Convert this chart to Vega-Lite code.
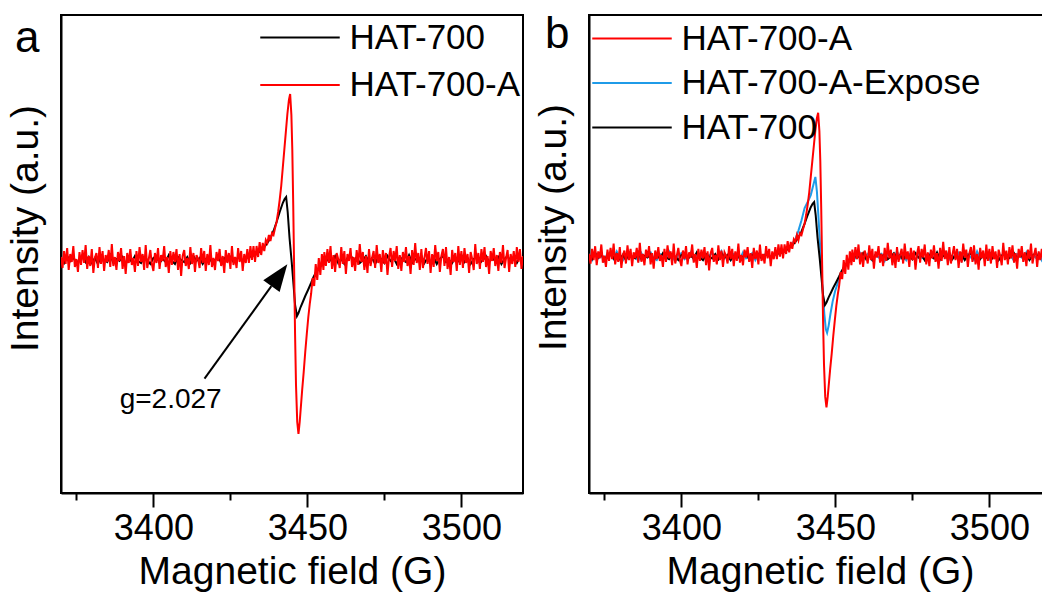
{
  "$schema": "https://vega.github.io/schema/vega-lite/v6.json",
  "padding": {"left": 4, "top": 11, "right": 0, "bottom": 0},
  "autosize": {"type": "pad"},
  "config": {
    "font": "Liberation Sans",
    "view": {"stroke": "#000000", "strokeWidth": 2},
    "axis": {"grid": false, "domainColor": "#000000", "domainWidth": 2, "labelColor": "#000000", "titleColor": "#000000", "titleFontWeight": "normal", "tickColor": "#000000", "tickWidth": 2},
    "legend": {"labelColor": "#000000", "labelLimit": 400}
  },
  "datasets": {
    "red": [
      {"x":3370,"y":3},{"x":3370.5,"y":-8},{"x":3371,"y":9},{"x":3371.5,"y":-4},{"x":3372,"y":12},{"x":3372.5,"y":-10},{"x":3373,"y":6},{"x":3373.5,"y":-2},{"x":3374,"y":14},{"x":3374.5,"y":-7},
      {"x":3375,"y":1},{"x":3375.5,"y":-12},{"x":3376,"y":8},{"x":3376.5,"y":-5},{"x":3377,"y":10},{"x":3377.5,"y":-3},{"x":3378,"y":15},{"x":3378.5,"y":-9},{"x":3379,"y":4},{"x":3379.5,"y":-6},
      {"x":3380,"y":11},{"x":3380.5,"y":-13},{"x":3381,"y":2},{"x":3381.5,"y":7},{"x":3382,"y":-8},{"x":3382.5,"y":13},{"x":3383,"y":-4},{"x":3383.5,"y":9},{"x":3384,"y":-11},{"x":3384.5,"y":5},
      {"x":3385,"y":-2},{"x":3385.5,"y":10},{"x":3386,"y":-7},{"x":3386.5,"y":16},{"x":3387,"y":-6},{"x":3387.5,"y":3},{"x":3388,"y":-10},{"x":3388.5,"y":8},{"x":3389,"y":-1},{"x":3389.5,"y":12},
      {"x":3390,"y":-9},{"x":3390.5,"y":4},{"x":3391,"y":-14},{"x":3391.5,"y":7},{"x":3392,"y":-3},{"x":3392.5,"y":11},{"x":3393,"y":-5},{"x":3393.5,"y":2},{"x":3394,"y":-12},{"x":3394.5,"y":9},
      {"x":3395,"y":-6},{"x":3395.5,"y":13},{"x":3396,"y":-2},{"x":3396.5,"y":6},{"x":3397,"y":-10},{"x":3397.5,"y":15},{"x":3398,"y":-8},{"x":3398.5,"y":1},{"x":3399,"y":10},{"x":3399.5,"y":-4},
      {"x":3400,"y":-11},{"x":3400.5,"y":7},{"x":3401,"y":-3},{"x":3401.5,"y":12},{"x":3402,"y":-9},{"x":3402.5,"y":5},{"x":3403,"y":-1},{"x":3403.5,"y":14},{"x":3404,"y":-7},{"x":3404.5,"y":3},
      {"x":3405,"y":-13},{"x":3405.5,"y":9},{"x":3406,"y":-5},{"x":3406.5,"y":8},{"x":3407,"y":-2},{"x":3407.5,"y":11},{"x":3408,"y":-10},{"x":3408.5,"y":6},{"x":3409,"y":-16},{"x":3409.5,"y":4},
      {"x":3410,"y":10},{"x":3410.5,"y":-6},{"x":3411,"y":2},{"x":3411.5,"y":-9},{"x":3412,"y":13},{"x":3412.5,"y":-4},{"x":3413,"y":7},{"x":3413.5,"y":-12},{"x":3414,"y":5},{"x":3414.5,"y":1},
      {"x":3415,"y":-8},{"x":3415.5,"y":12},{"x":3416,"y":-3},{"x":3416.5,"y":9},{"x":3417,"y":-11},{"x":3417.5,"y":6},{"x":3418,"y":-5},{"x":3418.5,"y":15},{"x":3419,"y":-7},{"x":3419.5,"y":2},
      {"x":3420,"y":-10},{"x":3420.5,"y":8},{"x":3421,"y":-1},{"x":3421.5,"y":11},{"x":3422,"y":-6},{"x":3422.5,"y":4},{"x":3423,"y":-13},{"x":3423.5,"y":10},{"x":3424,"y":-3},{"x":3424.5,"y":7},
      {"x":3425,"y":-9},{"x":3425.5,"y":14},{"x":3426,"y":-5},{"x":3426.5,"y":3},{"x":3427,"y":-8},{"x":3427.5,"y":12},{"x":3428,"y":-2},{"x":3428.5,"y":9},{"x":3429,"y":-11},{"x":3429.5,"y":6},
      {"x":3430,"y":-3},{"x":3430.5,"y":11},{"x":3431,"y":-3},{"x":3431.5,"y":14},{"x":3432,"y":0},{"x":3432.5,"y":14},{"x":3433,"y":-2},{"x":3433.5,"y":14},{"x":3434,"y":3},{"x":3434.5,"y":18},
      {"x":3435,"y":5},{"x":3435.5,"y":17},{"x":3436,"y":9},{"x":3436.5,"y":20},{"x":3437,"y":17},{"x":3437.5,"y":25},{"x":3438,"y":19},{"x":3438.5,"y":27},{"x":3439,"y":25},{"x":3439.5,"y":32},
      {"x":3440,"y":38},{"x":3440.5,"y":48},{"x":3441,"y":60},{"x":3441.5,"y":74},{"x":3442,"y":92},{"x":3442.5,"y":110},{"x":3443,"y":128},{"x":3443.5,"y":146},{"x":3444,"y":160},{"x":3444.4,"y":166},
      {"x":3444.8,"y":145},{"x":3445.1,"y":110},{"x":3445.4,"y":55},{"x":3445.7,"y":-10},{"x":3446,"y":-75},{"x":3446.3,"y":-125},{"x":3446.7,"y":-162},{"x":3447.1,"y":-174},{"x":3447.5,"y":-162},{"x":3447.9,"y":-146},
      {"x":3448.3,"y":-130},{"x":3448.8,"y":-112},{"x":3449.3,"y":-92},{"x":3449.8,"y":-74},{"x":3450.3,"y":-57},{"x":3450.8,"y":-43},{"x":3451.2,"y":-34},{"x":3451.7,"y":-18},{"x":3452.2,"y":-26},{"x":3452.7,"y":-4},
      {"x":3453.2,"y":-20},{"x":3453.7,"y":2},{"x":3454.2,"y":-15},{"x":3454.7,"y":6},{"x":3455.2,"y":-10},
      {"x":3455.5,"y":8},{"x":3456,"y":-6},{"x":3456.5,"y":11},{"x":3457,"y":-3},{"x":3457.5,"y":14},{"x":3458,"y":-9},{"x":3458.5,"y":5},{"x":3459,"y":-12},{"x":3459.5,"y":7},{"x":3460,"y":1},
      {"x":3460.5,"y":-8},{"x":3461,"y":13},{"x":3461.5,"y":-4},{"x":3462,"y":9},{"x":3462.5,"y":-14},{"x":3463,"y":6},{"x":3463.5,"y":-1},{"x":3464,"y":12},{"x":3464.5,"y":-7},{"x":3465,"y":3},
      {"x":3465.5,"y":-11},{"x":3466,"y":10},{"x":3466.5,"y":-5},{"x":3467,"y":16},{"x":3467.5,"y":-2},{"x":3468,"y":8},{"x":3468.5,"y":-10},{"x":3469,"y":4},{"x":3469.5,"y":-13},{"x":3470,"y":11},
      {"x":3470.5,"y":-6},{"x":3471,"y":2},{"x":3471.5,"y":9},{"x":3472,"y":-8},{"x":3472.5,"y":15},{"x":3473,"y":-3},{"x":3473.5,"y":6},{"x":3474,"y":-12},{"x":3474.5,"y":10},{"x":3475,"y":-4},
      {"x":3475.5,"y":7},{"x":3476,"y":-15},{"x":3476.5,"y":3},{"x":3477,"y":12},{"x":3477.5,"y":-7},{"x":3478,"y":9},{"x":3478.5,"y":-1},{"x":3479,"y":14},{"x":3479.5,"y":-9},{"x":3480,"y":5},
      {"x":3480.5,"y":-11},{"x":3481,"y":8},{"x":3481.5,"y":-2},{"x":3482,"y":13},{"x":3482.5,"y":-6},{"x":3483,"y":4},{"x":3483.5,"y":-14},{"x":3484,"y":10},{"x":3484.5,"y":-5},{"x":3485,"y":17},
      {"x":3485.5,"y":-3},{"x":3486,"y":7},{"x":3486.5,"y":-10},{"x":3487,"y":11},{"x":3487.5,"y":-8},{"x":3488,"y":2},{"x":3488.5,"y":12},{"x":3489,"y":-4},{"x":3489.5,"y":9},{"x":3490,"y":-13},
      {"x":3490.5,"y":6},{"x":3491,"y":-7},{"x":3491.5,"y":15},{"x":3492,"y":-1},{"x":3492.5,"y":8},{"x":3493,"y":-12},{"x":3493.5,"y":4},{"x":3494,"y":11},{"x":3494.5,"y":-6},{"x":3495,"y":13},
      {"x":3495.5,"y":-9},{"x":3496,"y":3},{"x":3496.5,"y":-15},{"x":3497,"y":10},{"x":3497.5,"y":-2},{"x":3498,"y":7},{"x":3498.5,"y":-11},{"x":3499,"y":14},{"x":3499.5,"y":-5},{"x":3500,"y":9},
      {"x":3500.5,"y":-8},{"x":3501,"y":12},{"x":3501.5,"y":-3},{"x":3502,"y":6},{"x":3502.5,"y":-13},{"x":3503,"y":8},{"x":3503.5,"y":1},{"x":3504,"y":-10},{"x":3504.5,"y":16},{"x":3505,"y":-4},
      {"x":3505.5,"y":7},{"x":3506,"y":-9},{"x":3506.5,"y":11},{"x":3507,"y":-2},{"x":3507.5,"y":13},{"x":3508,"y":-7},{"x":3508.5,"y":4},{"x":3509,"y":-14},{"x":3509.5,"y":9},{"x":3510,"y":-1},
      {"x":3510.5,"y":12},{"x":3511,"y":-6},{"x":3511.5,"y":5},{"x":3512,"y":-11},{"x":3512.5,"y":8},{"x":3513,"y":-3},{"x":3513.5,"y":15},{"x":3514,"y":-8},{"x":3514.5,"y":2},{"x":3515,"y":10},
      {"x":3515.5,"y":-12},{"x":3516,"y":6},{"x":3516.5,"y":-4},{"x":3517,"y":9},{"x":3517.5,"y":-7},{"x":3518,"y":13},{"x":3518.5,"y":-2},{"x":3519,"y":11},{"x":3519.5,"y":-9},{"x":3520,"y":4}
    ],
    "black": [
      {"x":3370,"y":2},{"x":3371,"y":-3},{"x":3372,"y":4},{"x":3373,"y":-1},{"x":3374,"y":3},{"x":3375,"y":-4},{"x":3376,"y":1},{"x":3377,"y":5},{"x":3378,"y":-2},{"x":3379,"y":3},
      {"x":3380,"y":-3},{"x":3381,"y":2},{"x":3382,"y":-4},{"x":3383,"y":4},{"x":3384,"y":0},{"x":3385,"y":-2},{"x":3386,"y":5},{"x":3387,"y":-3},{"x":3388,"y":1},{"x":3389,"y":-1},
      {"x":3390,"y":3},{"x":3391,"y":-4},{"x":3392,"y":2},{"x":3393,"y":-2},{"x":3394,"y":4},{"x":3395,"y":-1},{"x":3396,"y":-3},{"x":3397,"y":3},{"x":3398,"y":0},{"x":3399,"y":-4},
      {"x":3400,"y":2},{"x":3401,"y":4},{"x":3402,"y":-3},{"x":3403,"y":1},{"x":3404,"y":-2},{"x":3405,"y":5},{"x":3406,"y":-1},{"x":3407,"y":-4},{"x":3408,"y":3},{"x":3409,"y":0},
      {"x":3410,"y":-2},{"x":3411,"y":3},{"x":3412,"y":-3},{"x":3413,"y":4},{"x":3414,"y":-1},{"x":3415,"y":2},{"x":3416,"y":-4},{"x":3417,"y":1},{"x":3418,"y":3},{"x":3419,"y":-2},
      {"x":3420,"y":0},{"x":3421,"y":4},{"x":3422,"y":-3},{"x":3423,"y":2},{"x":3424,"y":-1},{"x":3425,"y":3},{"x":3426,"y":-2},{"x":3427,"y":1},{"x":3428,"y":4},{"x":3429,"y":-1},
      {"x":3430,"y":2},{"x":3431,"y":3},{"x":3432,"y":4},{"x":3433,"y":5},{"x":3434,"y":7},{"x":3435,"y":10},{"x":3436,"y":13},{"x":3437,"y":17},{"x":3438,"y":22},{"x":3439,"y":29},
      {"x":3440,"y":38},{"x":3441,"y":48},{"x":3442,"y":57},{"x":3442.6,"y":61},{"x":3443.1,"y":63},{"x":3443.6,"y":48},{"x":3444.2,"y":22},{"x":3444.9,"y":-2},{"x":3445.5,"y":-25},{"x":3446,"y":-45},
      {"x":3446.6,"y":-56},{"x":3447.1,"y":-53},{"x":3447.8,"y":-47},{"x":3448.5,"y":-42},{"x":3449.3,"y":-36},{"x":3450.2,"y":-30},{"x":3451.2,"y":-23},{"x":3452,"y":-17},{"x":3453,"y":-11},{"x":3454,"y":-7},
      {"x":3455,"y":-4},{"x":3456,"y":-2},
      {"x":3457,"y":3},{"x":3458,"y":-2},{"x":3459,"y":4},{"x":3460,"y":-3},{"x":3461,"y":1},{"x":3462,"y":-4},{"x":3463,"y":2},{"x":3464,"y":5},{"x":3465,"y":-1},{"x":3466,"y":3},
      {"x":3467,"y":-3},{"x":3468,"y":0},{"x":3469,"y":4},{"x":3470,"y":-2},{"x":3471,"y":2},{"x":3472,"y":-4},{"x":3473,"y":3},{"x":3474,"y":1},{"x":3475,"y":-3},{"x":3476,"y":4},
      {"x":3477,"y":-1},{"x":3478,"y":2},{"x":3479,"y":-4},{"x":3480,"y":3},{"x":3481,"y":0},{"x":3482,"y":-2},{"x":3483,"y":5},{"x":3484,"y":-3},{"x":3485,"y":1},{"x":3486,"y":-1},
      {"x":3487,"y":4},{"x":3488,"y":-3},{"x":3489,"y":2},{"x":3490,"y":-2},{"x":3491,"y":3},{"x":3492,"y":-4},{"x":3493,"y":1},{"x":3494,"y":4},{"x":3495,"y":-2},{"x":3496,"y":0},
      {"x":3497,"y":-3},{"x":3498,"y":3},{"x":3499,"y":-1},{"x":3500,"y":5},{"x":3501,"y":-2},{"x":3502,"y":2},{"x":3503,"y":-4},{"x":3504,"y":1},{"x":3505,"y":3},{"x":3506,"y":-3},
      {"x":3507,"y":0},{"x":3508,"y":4},{"x":3509,"y":-2},{"x":3510,"y":2},{"x":3511,"y":-1},{"x":3512,"y":3},{"x":3513,"y":-4},{"x":3514,"y":1},{"x":3515,"y":4},{"x":3516,"y":-2},
      {"x":3517,"y":2},{"x":3518,"y":-3},{"x":3519,"y":3},{"x":3520,"y":-1}
    ],
    "blue": [
      {"x":3370,"y":3},{"x":3371,"y":-4},{"x":3372,"y":5},{"x":3373,"y":-2},{"x":3374,"y":1},{"x":3375,"y":-5},{"x":3376,"y":4},{"x":3377,"y":2},{"x":3378,"y":-3},{"x":3379,"y":6},
      {"x":3380,"y":-1},{"x":3381,"y":-4},{"x":3382,"y":3},{"x":3383,"y":5},{"x":3384,"y":-2},{"x":3385,"y":0},{"x":3386,"y":-5},{"x":3387,"y":4},{"x":3388,"y":-3},{"x":3389,"y":2},
      {"x":3390,"y":5},{"x":3391,"y":-2},{"x":3392,"y":-4},{"x":3393,"y":3},{"x":3394,"y":1},{"x":3395,"y":-3},{"x":3396,"y":6},{"x":3397,"y":-1},{"x":3398,"y":-5},{"x":3399,"y":2},
      {"x":3400,"y":4},{"x":3401,"y":-3},{"x":3402,"y":0},{"x":3403,"y":5},{"x":3404,"y":-4},{"x":3405,"y":2},{"x":3406,"y":-2},{"x":3407,"y":3},{"x":3408,"y":-5},{"x":3409,"y":1},
      {"x":3410,"y":4},{"x":3411,"y":-1},{"x":3412,"y":-3},{"x":3413,"y":6},{"x":3414,"y":-2},{"x":3415,"y":1},{"x":3416,"y":-4},{"x":3417,"y":3},{"x":3418,"y":2},{"x":3419,"y":-3},
      {"x":3420,"y":5},{"x":3421,"y":-2},{"x":3422,"y":0},{"x":3423,"y":4},{"x":3424,"y":-4},{"x":3425,"y":3},{"x":3426,"y":-1},{"x":3427,"y":2},{"x":3428,"y":5},{"x":3429,"y":-2},
      {"x":3430,"y":2},{"x":3431,"y":3},{"x":3432,"y":5},{"x":3433,"y":6},{"x":3434,"y":8},{"x":3435,"y":11},{"x":3436,"y":15},{"x":3437,"y":20},{"x":3438,"y":30},{"x":3439,"y":42},
      {"x":3440,"y":56},{"x":3441,"y":63},{"x":3442,"y":71},{"x":3443,"y":85},{"x":3443.5,"y":92},{"x":3444,"y":75},{"x":3444.6,"y":40},{"x":3445.2,"y":2},{"x":3445.8,"y":-35},{"x":3446.4,"y":-66},
      {"x":3446.9,"y":-84},{"x":3447.3,"y":-88},{"x":3447.8,"y":-80},{"x":3448.4,"y":-66},{"x":3449.1,"y":-52},{"x":3449.9,"y":-40},{"x":3450.8,"y":-30},{"x":3451.7,"y":-22},{"x":3452.6,"y":-15},{"x":3453.6,"y":-9},
      {"x":3454.6,"y":-5},{"x":3455.6,"y":-2},
      {"x":3457,"y":-2},{"x":3458,"y":4},{"x":3459,"y":-3},{"x":3460,"y":1},{"x":3461,"y":5},{"x":3462,"y":-4},{"x":3463,"y":2},{"x":3464,"y":-1},{"x":3465,"y":3},{"x":3466,"y":-5},
      {"x":3467,"y":4},{"x":3468,"y":0},{"x":3469,"y":-3},{"x":3470,"y":6},{"x":3471,"y":-2},{"x":3472,"y":2},{"x":3473,"y":-4},{"x":3474,"y":3},{"x":3475,"y":1},{"x":3476,"y":-5},
      {"x":3477,"y":5},{"x":3478,"y":-1},{"x":3479,"y":-3},{"x":3480,"y":2},{"x":3481,"y":4},{"x":3482,"y":-2},{"x":3483,"y":0},{"x":3484,"y":-4},{"x":3485,"y":3},{"x":3486,"y":5},
      {"x":3487,"y":-3},{"x":3488,"y":1},{"x":3489,"y":-2},{"x":3490,"y":4},{"x":3491,"y":-5},{"x":3492,"y":2},{"x":3493,"y":3},{"x":3494,"y":-1},{"x":3495,"y":-4},{"x":3496,"y":6},
      {"x":3497,"y":-2},{"x":3498,"y":0},{"x":3499,"y":3},{"x":3500,"y":-3},{"x":3501,"y":5},{"x":3502,"y":-1},{"x":3503,"y":-4},{"x":3504,"y":2},{"x":3505,"y":4},{"x":3506,"y":-2},
      {"x":3507,"y":1},{"x":3508,"y":-5},{"x":3509,"y":3},{"x":3510,"y":0},{"x":3511,"y":-2},{"x":3512,"y":5},{"x":3513,"y":-3},{"x":3514,"y":2},{"x":3515,"y":-1},{"x":3516,"y":4},
      {"x":3517,"y":-4},{"x":3518,"y":3},{"x":3519,"y":1},{"x":3520,"y":-2}
    ]
  },
  "spacing": 66,
  "bounds": "flush",
  "resolve": {"scale": {"x": "independent", "y": "independent", "color": "independent"}, "legend": {"color": "independent"}},
  "hconcat": [
    {
      "width": 462,
      "height": 478,
      "encoding": {
        "x": {"field": "x", "type": "quantitative", "scale": {"domain": [3370, 3520], "nice": false, "zero": false},
          "axis": {"title": "Magnetic field (G)", "titleFontSize": 39, "titlePadding": 6, "values": [3375, 3400, 3425, 3450, 3475, 3500], "format": "d", "labelExpr": "datum.value % 50 === 0 ? datum.label : ''", "labelFontSize": 36, "labelPadding": 4, "labelFlush": false, "labelOverlap": false, "tickSize": {"condition": {"test": "datum.value % 50 === 0", "value": 14}, "value": 7}}},
        "y": {"field": "y", "type": "quantitative", "scale": {"domain": [-233, 245], "nice": false, "zero": false},
          "axis": {"title": "Intensity (a.u.)", "titleFontSize": 39, "labels": false, "ticks": false, "titleX": -16, "titleY": 213, "titleBaseline": "bottom", "titleAngle": 270, "titleAlign": "center"}}
      },
      "layer": [
        {"data": {"name": "black"}, "mark": {"type": "line", "strokeWidth": 2, "clip": true},
          "encoding": {"color": {"datum": "HAT-700", "type": "nominal", "scale": {"domain": ["HAT-700", "HAT-700-A"], "range": ["#000000", "#ff0000"]},
            "legend": {"title": null, "orient": "none", "legendX": 221.5, "legendY": 5, "padding": 0, "labelFontSize": 35, "symbolType": "M-3,0L3,0", "symbolSize": 702, "symbolStrokeWidth": 2, "labelOffset": 32, "rowPadding": 11.5}}}},
        {"data": {"name": "red"}, "mark": {"type": "line", "strokeWidth": 2, "clip": true},
          "encoding": {"color": {"datum": "HAT-700-A", "type": "nominal", "scale": {"domain": ["HAT-700", "HAT-700-A"], "range": ["#000000", "#ff0000"]},
            "legend": {"title": null, "orient": "none", "legendX": 221.5, "legendY": 5, "padding": 0, "labelFontSize": 35, "symbolType": "M-3,0L3,0", "symbolSize": 702, "symbolStrokeWidth": 2, "labelOffset": 32, "rowPadding": 11.5}}}},
        {"data": {"values": [{"x": 3416.6, "y": -118.7, "x2": 3438.3, "y2": -26.2}]}, "mark": {"type": "rule", "strokeWidth": 2, "color": "#000000"},
          "encoding": {"x2": {"field": "x2"}, "y2": {"field": "y2"}}},
        {"data": {"values": [{"x": 3440.9, "y": -15.2}]}, "mark": {"type": "point", "shape": "M0,-1L0.75,1L-0.75,1Z", "size": 729, "angle": 36, "filled": true, "color": "#000000", "opacity": 1}},
        {"data": {"values": [{"x": 3405.6, "y": -139.8, "label": "g=2.027"}]}, "mark": {"type": "text", "fontSize": 28, "color": "#000000", "align": "center", "baseline": "middle"},
          "encoding": {"text": {"field": "label"}}},
        {"data": {"values": [{"x": 3355.1, "y": 208, "label": "a"}]}, "mark": {"type": "text", "fontSize": 44, "color": "#000000", "align": "left", "baseline": "alphabetic"},
          "encoding": {"text": {"field": "label"}}}
      ]
    },
    {
      "width": 462,
      "height": 478,
      "encoding": {
        "x": {"field": "x", "type": "quantitative", "scale": {"domain": [3370, 3520], "nice": false, "zero": false},
          "axis": {"title": "Magnetic field (G)", "titleFontSize": 39, "titlePadding": 6, "values": [3375, 3400, 3425, 3450, 3475, 3500], "format": "d", "labelExpr": "datum.value % 50 === 0 ? datum.label : ''", "labelFontSize": 36, "labelPadding": 4, "labelFlush": false, "labelOverlap": false, "tickSize": {"condition": {"test": "datum.value % 50 === 0", "value": 14}, "value": 7}}},
        "y": {"field": "y", "type": "quantitative", "scale": {"domain": [-273, 279], "nice": false, "zero": false},
          "axis": {"title": "Intensity (a.u.)", "titleFontSize": 39, "labels": false, "ticks": false, "titleX": -16, "titleY": 212, "titleBaseline": "bottom", "titleAngle": 270, "titleAlign": "center"}}
      },
      "layer": [
        {"data": {"name": "blue"}, "mark": {"type": "line", "strokeWidth": 2, "clip": true},
          "encoding": {"color": {"datum": "HAT-700-A-Expose", "type": "nominal", "scale": {"domain": ["HAT-700-A", "HAT-700-A-Expose", "HAT-700"], "range": ["#ff0000", "#1f9be8", "#000000"]},
            "legend": {"title": null, "orient": "none", "legendX": 25.5, "legendY": 6, "padding": 0, "labelFontSize": 35, "symbolType": "M-3,0L3,0", "symbolSize": 702, "symbolStrokeWidth": 2, "labelOffset": 32, "rowPadding": 8.5}}}},
        {"data": {"name": "black"}, "mark": {"type": "line", "strokeWidth": 2, "clip": true},
          "encoding": {"color": {"datum": "HAT-700", "type": "nominal", "scale": {"domain": ["HAT-700-A", "HAT-700-A-Expose", "HAT-700"], "range": ["#ff0000", "#1f9be8", "#000000"]},
            "legend": {"title": null, "orient": "none", "legendX": 25.5, "legendY": 6, "padding": 0, "labelFontSize": 35, "symbolType": "M-3,0L3,0", "symbolSize": 702, "symbolStrokeWidth": 2, "labelOffset": 32, "rowPadding": 8.5}}}},
        {"data": {"name": "red"}, "mark": {"type": "line", "strokeWidth": 2, "clip": true},
          "encoding": {"color": {"datum": "HAT-700-A", "type": "nominal", "scale": {"domain": ["HAT-700-A", "HAT-700-A-Expose", "HAT-700"], "range": ["#ff0000", "#1f9be8", "#000000"]},
            "legend": {"title": null, "orient": "none", "legendX": 25.5, "legendY": 6, "padding": 0, "labelFontSize": 35, "symbolType": "M-3,0L3,0", "symbolSize": 702, "symbolStrokeWidth": 2, "labelOffset": 32, "rowPadding": 8.5}}}},
        {"data": {"values": [{"x": 3355.7, "y": 240.9, "label": "b"}]}, "mark": {"type": "text", "fontSize": 44, "color": "#000000", "align": "left", "baseline": "alphabetic"},
          "encoding": {"text": {"field": "label"}}}
      ]
    }
  ]
}
